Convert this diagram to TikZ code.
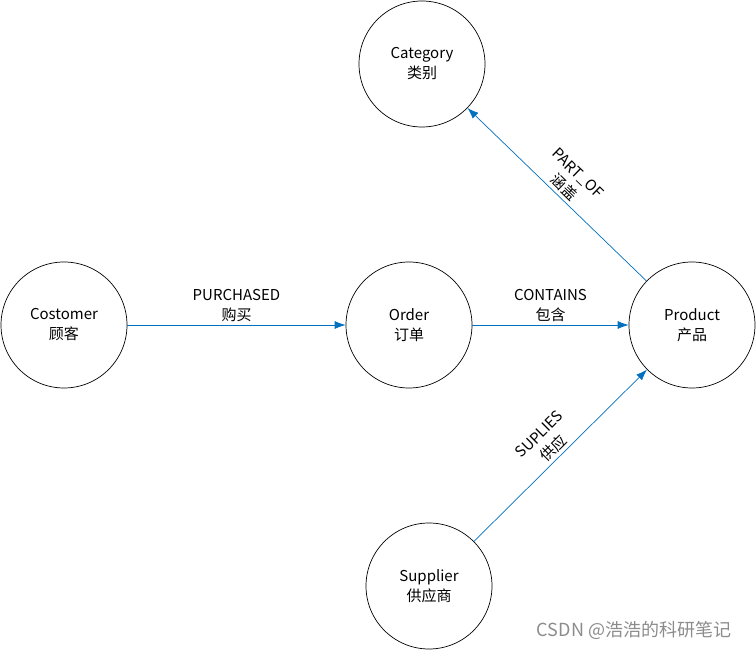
\documentclass[tikz,border=0pt]{standalone}
\usepackage{fontspec}
\setmainfont{Noto Sans CJK SC}
\usetikzlibrary{arrows.meta}
\definecolor{linkblue}{RGB}{0,112,192}

\begin{document}
\begin{tikzpicture}[x=1pt,y=1pt,
    entity/.style={draw, circle, minimum size=126pt, inner sep=0pt, align=center,
      font=\fontsize{15}{20}\selectfont, line width=0.7pt},
    rel/.style={draw=linkblue, line width=0.7pt, -{Latex[length=11pt,width=8pt]}},
    lab/.style={align=center, font=\fontsize{15}{20}\selectfont, inner sep=3pt}]
  \useasboundingbox (0,0) rectangle (756,649);
  % entities
  \node[entity] (customer) at (64,324) {Costomer\\顾客};
  \node[entity] (order) at (409,324) {Order\\订单};
  \node[entity] (product) at (692,324) {Product\\产品};
  \node[entity] (category) at (422,585) {Category\\类别};
  \node[entity] (supplier) at (429,63) {Supplier\\供应商};
  % relations
  \draw[rel] (customer) -- node[lab, midway, above] {PURCHASED\\购买} (order);
  \draw[rel] (order) -- node[lab, midway, above] {CONTAINS\\包含} (product);
  \draw[rel] (product) -- node[lab, midway, sloped, above] {PART\_OF\\涵盖} (category);
  \draw[rel] (supplier) -- node[lab, midway, sloped, above] {SUPLIES\\供应} (product);
  % watermark
  \node[text=black!45, font=\fontsize{18}{20}\selectfont] (mark) at (634,19) {CSDN @浩浩的科研笔记};
\end{tikzpicture}
\end{document}
